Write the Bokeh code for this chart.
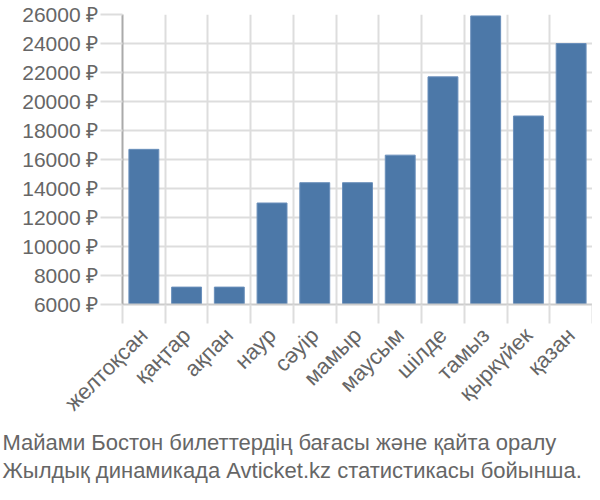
import math
from bokeh.plotting import figure
from bokeh.models import FixedTicker, PrintfTickFormatter, CustomJSTickFormatter, Title, Range1d
from bokeh.embed import file_html
from bokeh.resources import INLINE

months = ["желтоқсан", "қаңтар", "ақпан", "наур", "сәуір", "мамыр",
          "маусым", "шілде", "тамыз", "қыркүйек", "қазан"]
prices = [16700, 7200, 7200, 13000, 14400, 14400, 16300, 21700, 25900, 19000, 24000]
y_ticks = [6000, 8000, 10000, 12000, 14000, 16000, 18000, 20000, 22000, 24000, 26000]
caption = ["Майами Бостон билеттердің бағасы және қайта оралу",
           "Жылдық динамикада Avticket.kz статистикасы бойынша."]

FONT = "Liberation Sans"
TXT = "#666666"
GRID = "#dddddd"

W, H = 592, 484
LEFT, TOP, BOTTOM, RIGHT = 122, 14, 180, 0

n = len(months)
x0, x1 = -0.5, n - 0.5
y0, y1 = 6000, 26000

p = figure(width=W, height=H, output_backend="svg", toolbar_location=None,
           x_range=Range1d(x0, x1), y_range=Range1d(y0, y1),
           min_border_left=LEFT, min_border_top=TOP, min_border_bottom=BOTTOM,
           min_border_right=RIGHT)
p.outline_line_color = None

xs = list(range(n))
p.vbar(x=xs, top=prices, bottom=y0, width=0.7, fill_color="#4c78a8",
       line_color="#6a8fbb", line_width=1)

boundaries = [i - 0.5 for i in range(n + 1)]
p.xaxis.ticker = FixedTicker(ticks=xs, minor_ticks=boundaries)
p.xaxis.formatter = CustomJSTickFormatter(args=dict(labels=months),
                                          code="return labels[Math.round(tick)] ?? '';")
p.xaxis.major_tick_out = 0
p.xaxis.major_tick_in = 0
p.xaxis.minor_tick_out = 19
p.xaxis.minor_tick_in = 0
p.xaxis.minor_tick_line_color = GRID
p.xaxis.minor_tick_line_width = 2
p.xaxis.axis_line_color = "#cccccc"
p.xaxis.axis_line_width = 2
p.xaxis.major_label_orientation = math.pi / 4
p.xaxis.major_label_standoff = 8
p.xaxis.major_label_text_font = FONT
p.xaxis.major_label_text_font_size = "22px"
p.xaxis.major_label_text_color = TXT

p.xgrid.ticker = FixedTicker(ticks=boundaries)
p.xgrid.grid_line_color = GRID
p.xgrid.grid_line_width = 2

p.yaxis.ticker = FixedTicker(ticks=y_ticks)
p.yaxis.formatter = PrintfTickFormatter(format="%d ₽")
p.yaxis.major_tick_out = 22
p.yaxis.major_tick_in = 0
p.yaxis.minor_tick_line_color = None
p.yaxis.major_tick_line_color = GRID
p.yaxis.major_tick_line_width = 2
p.yaxis.axis_line_color = "#aaaaaa"
p.yaxis.axis_line_width = 2
p.yaxis.major_label_standoff = 2
p.yaxis.major_label_text_font = FONT
p.yaxis.major_label_text_font_size = "21px"
p.yaxis.major_label_text_color = TXT
p.ygrid.grid_line_color = GRID
p.ygrid.grid_line_width = 2

for k, line in enumerate(caption):
    t = Title(text=line, align="left", offset=-(LEFT - 2), text_font=FONT,
              text_font_size="22px", text_color=TXT, text_font_style="normal",
              standoff=0 if k == 0 else 3)
    p.add_layout(t, "below")

open("out.html", "w").write(file_html(p, INLINE))
